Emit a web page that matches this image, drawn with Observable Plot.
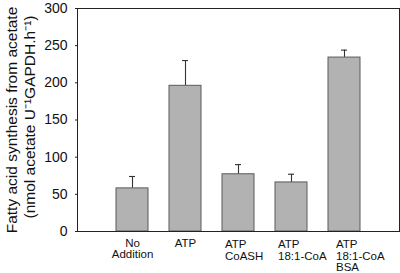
<!DOCTYPE html>
<html>
<head>
<meta charset="utf-8">
<script src="https://cdn.jsdelivr.net/npm/d3@7"></script>
<script src="https://cdn.jsdelivr.net/npm/@observablehq/plot@0.6"></script>
<style>
  html, body { margin: 0; padding: 0; background: #fff; }
</style>
</head>
<body>
<div id="chart"></div>
<script>
const categories = ["No Addition", "ATP", "ATP CoASH", "ATP 18:1-CoA", "ATP 18:1-CoA BSA"];
const labels = ["No\nAddition", "ATP", "ATP\nCoASH", "ATP\n18:1-CoA", "ATP\n18:1-CoA\nBSA"];
const values = [58, 196, 77, 66, 234];
const errors = [16, 34, 13, 11, 10];
const yTicks = [0, 50, 100, 150, 200, 250, 300];
const yLabel1 = "Fatty acid synthesis from acetate";
const yLabel2 = "(nmol acetate U\u207B\u00B9GAPDH.h\u207B\u00B9)";

const data = categories.map((c, i) => ({cat: c, label: labels[i], value: values[i], upper: values[i] + errors[i]}));
const centered = data.filter((d, i) => i < 2);
const leftA = data.filter((d, i) => i === 2 || i === 3);
const leftB = data.filter((d, i) => i === 4);

const font = "'Liberation Sans', Arial, Helvetica, sans-serif";

const chart = Plot.plot({
  width: 400,
  height: 273,
  marginLeft: 77,
  marginRight: 1,
  marginTop: 8,
  marginBottom: 42,
  style: {fontFamily: font, background: "#fff", color: "#111", overflow: "visible"},
  x: {domain: categories, paddingInner: 0.39, paddingOuter: 0.69, axis: null},
  y: {domain: [0, 300], ticks: yTicks, tickSize: 2, tickPadding: 8, label: null, tickFormat: d3.format("d")},
  marks: [
    Plot.axisY({ticks: yTicks, tickSize: 2, tickPadding: 8, fontSize: 14, label: null, stroke: "#222", fill: "#111", tickFormat: d3.format("d")}),
    Plot.ruleX(data, {x: "cat", y1: "value", y2: "upper", stroke: "#333", strokeWidth: 1.1}),
    Plot.tickY(data, {x: "cat", y: "upper", stroke: "#333", strokeWidth: 1.1, insetLeft: 13, insetRight: 13}),
    Plot.barY(data, {x: "cat", y: "value", fill: "#b2b2b2", stroke: "#5a5a5a", strokeWidth: 1}),
    Plot.frame({stroke: "#222", strokeWidth: 1}),
    Plot.text(centered, {x: "cat", y: 0, text: "label", dy: 7, lineAnchor: "top", lineHeight: 1.0, fontSize: 11.5, fill: "#111"}),
    Plot.text(leftA, {x: "cat", y: 0, text: "label", dy: 8.5, dx: -13.5, textAnchor: "start", lineAnchor: "top", lineHeight: 1.0, fontSize: 11.5, fill: "#111"}),
    Plot.text(leftB, {x: "cat", y: 0, text: "label", dy: 8.5, dx: -8.5, textAnchor: "start", lineAnchor: "top", lineHeight: 1.0, fontSize: 11.5, fill: "#111"}),
    Plot.text([yLabel1], {text: d => d, frameAnchor: "left", textAnchor: "middle", rotate: -90, dx: -65, fontSize: 15.5, fill: "#111"}),
    Plot.text([yLabel2], {text: d => d, frameAnchor: "left", textAnchor: "middle", rotate: -90, dx: -47, dy: -3, fontSize: 15.5, fill: "#111"})
  ]
});
document.getElementById("chart").appendChild(chart);
</script>
</body>
</html>
